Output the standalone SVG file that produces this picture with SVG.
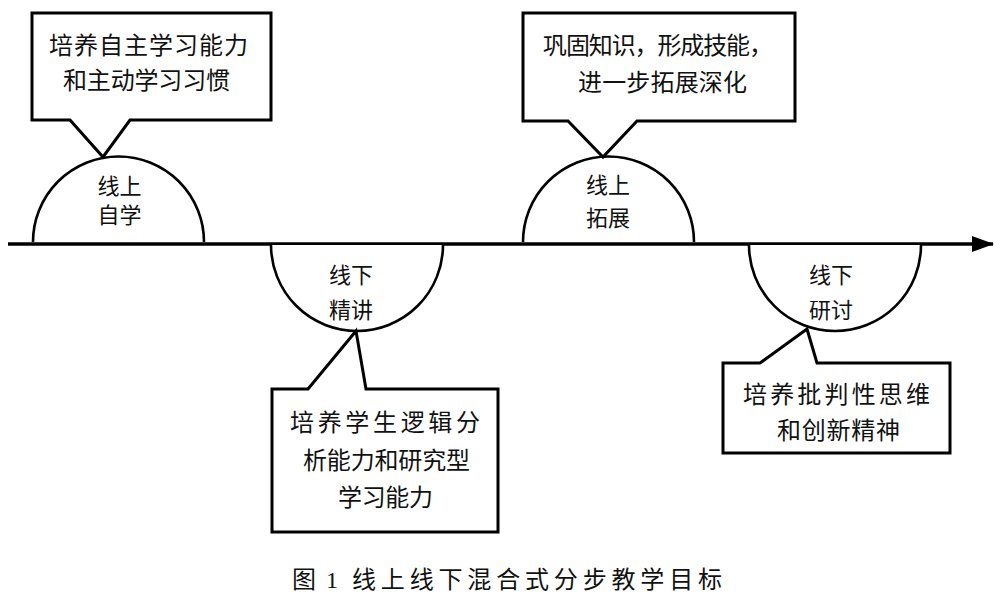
<svg xmlns="http://www.w3.org/2000/svg" width="1000" height="597" viewBox="0 0 1000 597">
<style>
.box{fill:#fff;stroke:#000;stroke-width:3;stroke-linejoin:miter}
.semi{fill:#fff;stroke:#000;stroke-width:2.6}
.t{font-family:"Noto Sans CJK SC","Noto Sans",sans-serif;font-size:24px;fill:#111;text-anchor:middle;dominant-baseline:central}
.s{font-family:"Noto Sans CJK SC","Noto Sans",sans-serif;font-size:22px;fill:#111;text-anchor:middle;dominant-baseline:central}
.cap{font-family:"Liberation Serif","Noto Sans CJK SC",serif;font-size:24px;fill:#111;dominant-baseline:central}
</style>
<defs>
<marker id="arr" viewBox="0 0 22 16" refX="21" refY="8" markerWidth="22" markerHeight="16" markerUnits="userSpaceOnUse" orient="auto">
<path d="M0,0 L22,8 L0,16 Z" fill="#000"/>
</marker>
</defs>
<g id="connectors">
<line x1="8" y1="244" x2="993" y2="244" stroke="#000" stroke-width="3.6" marker-end="url(#arr)"/>
</g>
<g id="node-online-self">
<path class="semi" d="M33,242 A85.5,85.5 0 0 1 204,242"/>
<text class="s" x="119.5" y="184">线上</text>
<text class="s" x="119.5" y="213">自学</text>
</g>
<g id="callout-online-self">
<path class="box" d="M32,13 H271 V120 H130 L103,157 L70,120 H32 Z"/>
<text class="t" x="148.5" y="43" textLength="199" lengthAdjust="spacing">培养自主学习能力</text>
<text class="t" x="146.5" y="78" textLength="167" lengthAdjust="spacing">和主动学习习惯</text>
</g>
<g id="node-offline-lecture">
<path class="semi" d="M271,245 A86,86 0 0 0 443,245"/>
<text class="s" x="351" y="273">线下</text>
<text class="s" x="351" y="308">精讲</text>
</g>
<g id="callout-offline-lecture">
<path class="box" d="M272,389 H308 L356,331 L366,389 H498 V532 H272 Z"/>
<text class="t" x="385" y="420" textLength="190" lengthAdjust="spacing">培养学生逻辑分</text>
<text class="t" x="386.5" y="458" textLength="167" lengthAdjust="spacing">析能力和研究型</text>
<text class="t" x="385.5" y="495" textLength="95" lengthAdjust="spacing">学习能力</text>
</g>
<g id="node-online-extend">
<path class="semi" d="M523,242 A85.5,85.5 0 0 1 694,242"/>
<text class="s" x="608" y="183">线上</text>
<text class="s" x="608" y="216">拓展</text>
</g>
<g id="callout-online-extend">
<path class="box" d="M523,13 H795 V121 H637 L603,157 L568,121 H523 Z"/>
<text class="t" x="658" y="43" textLength="230" lengthAdjust="spacing">巩固知识，形成技能，</text>
<text class="t" x="662.5" y="80" textLength="169" lengthAdjust="spacing">进一步拓展深化</text>
</g>
<g id="node-offline-discuss">
<path class="semi" d="M749,245 A86,86 0 0 0 921,245"/>
<text class="s" x="831" y="273">线下</text>
<text class="s" x="831" y="308">研讨</text>
</g>
<g id="callout-offline-discuss">
<path class="box" d="M723,363 H760 L807,329 L817,363 H950 V453 H723 Z"/>
<text class="t" x="836.5" y="392" textLength="187" lengthAdjust="spacing">培养批判性思维</text>
<text class="t" x="838.5" y="428" textLength="123" lengthAdjust="spacing">和创新精神</text>
</g>
<text class="cap" y="580"><tspan x="292">图</tspan><tspan x="326">1</tspan><tspan x="352" textLength="370" lengthAdjust="spacing">线上线下混合式分步教学目标</tspan></text>
</svg>
